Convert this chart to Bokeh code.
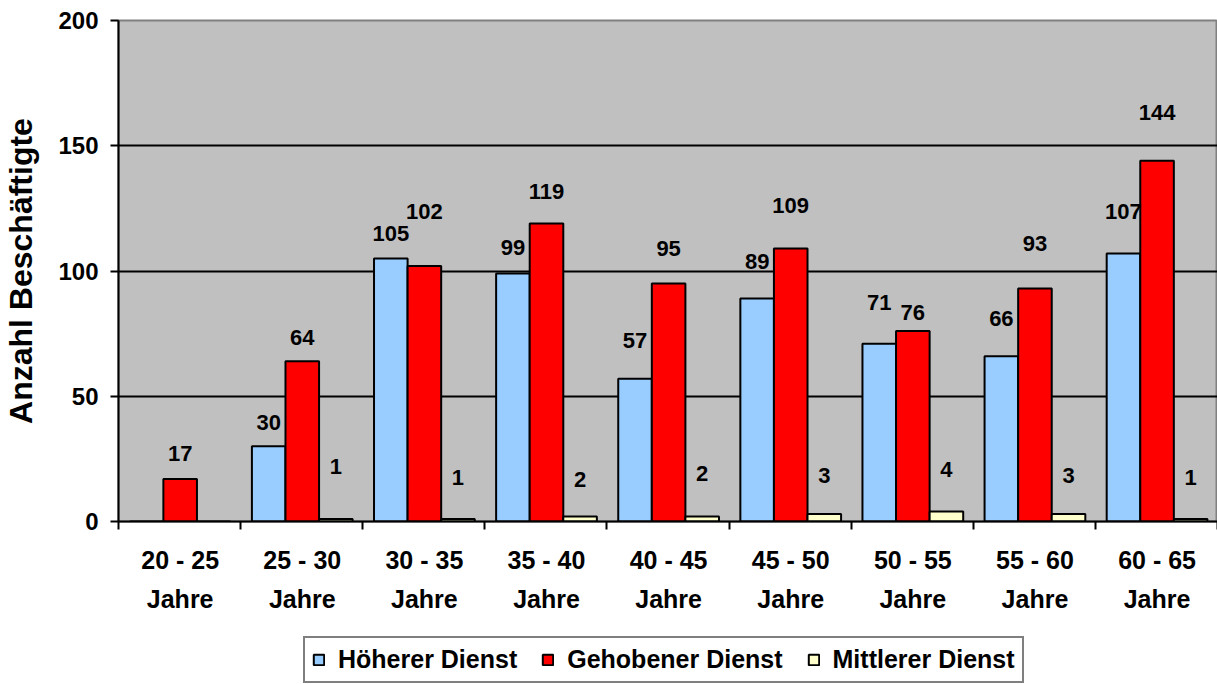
from bokeh.plotting import figure
from bokeh.layouts import column
from bokeh.models import (ColumnDataSource, FixedTicker, Range1d, Legend, LegendItem,
                          LabelSet)
from bokeh.core.properties import value
from bokeh.embed import file_html
from bokeh.resources import INLINE

# ---- data ----
age_groups = ["20 - 25", "25 - 30", "30 - 35", "35 - 40", "40 - 45",
              "45 - 50", "50 - 55", "55 - 60", "60 - 65"]
unit = "Jahre"
hoeherer = [0, 30, 105, 99, 57, 89, 71, 66, 107]
gehobener = [17, 64, 102, 119, 95, 109, 76, 93, 144]
mittlerer = [0, 1, 1, 2, 2, 3, 4, 3, 1]
series_names = ["Höherer Dienst", "Gehobener Dienst", "Mittlerer Dienst"]
y_ticks = [0, 50, 100, 150, 200]

# ---- styles ----
colors = ["#99CCFF", "#FF0000", "#FFFFCC"]
# label lift above bar top in pixels (as placed in the original chart)
label_lift = [
    [0, 24, 25, 26, 38, 37, 41, 38, 42],
    [25, 24, 54, 32, 35, 43, 19, 45, 48],
    [0, 52, 41, 37, 43, 38, 42, 38, 41],
]
FONT = "Liberation Sans"
bar_w = 0.275
shifts = [-0.275, 0.0, 0.275]
W = 1217

n = len(age_groups)
centers = [i + 0.505 for i in range(n)]

p = figure(width=W, height=632, output_backend="svg", toolbar_location=None,
           x_range=Range1d(0, n), y_range=Range1d(0, 200),
           min_border_left=118, min_border_top=20, min_border_right=0,
           min_border_bottom=111)
p.background_fill_color = "#C0C0C0"
p.border_fill_color = "white"
p.outline_line_color = "#808080"
p.outline_line_width = 2

bar_style = [dict(fill_color=c, line_color="black", line_width=2) for c in colors]

for k, vals in enumerate([hoeherer, gehobener, mittlerer]):
    xs = [c + shifts[k] for c in centers]
    src = ColumnDataSource(dict(x=xs, top=vals))
    p.vbar(x="x", top="top", width=bar_w, bottom=0, source=src, **bar_style[k])
    keep = [i for i, v in enumerate(vals) if v > 0]
    lsrc = ColumnDataSource(dict(x=[xs[i] for i in keep],
                                 y=[vals[i] for i in keep],
                                 t=[str(vals[i]) for i in keep],
                                 dy=[label_lift[k][i] for i in keep]))
    labels = LabelSet(x="x", y="y", text="t", y_offset="dy", source=lsrc,
                      text_align="center", text_baseline="middle",
                      text_font=value(FONT), text_font_style="bold",
                      text_font_size="22px", text_color="black")
    p.add_layout(labels)

# grid
p.xgrid.visible = False
p.ygrid.ticker = FixedTicker(ticks=y_ticks[1:-1])
p.ygrid.grid_line_color = "black"
p.ygrid.grid_line_width = 2

# y axis
p.yaxis.ticker = FixedTicker(ticks=y_ticks)
p.yaxis.axis_label = "Anzahl Beschäftigte"
p.yaxis.axis_label_text_font = FONT
p.yaxis.axis_label_text_font_style = "bold"
p.yaxis.axis_label_text_font_size = "32px"
p.yaxis.axis_label_text_color = "black"
p.yaxis.axis_label_standoff = 16
p.yaxis.major_label_text_font = FONT
p.yaxis.major_label_text_font_style = "bold"
p.yaxis.major_label_text_font_size = "24px"
p.yaxis.major_label_text_color = "black"
p.yaxis.major_label_standoff = 12
p.yaxis.axis_line_color = "black"
p.yaxis.axis_line_width = 2
p.yaxis.major_tick_line_color = "black"
p.yaxis.major_tick_line_width = 2
p.yaxis.major_tick_out = 8
p.yaxis.major_tick_in = 0
p.yaxis.minor_tick_line_color = None

# x axis
p.xaxis.ticker = FixedTicker(ticks=centers, minor_ticks=list(range(n + 1)))
p.xaxis.major_label_overrides = {c: f"{g}\n{unit}" for c, g in zip(centers, age_groups)}
p.xaxis.major_label_text_font = FONT
p.xaxis.major_label_text_font_style = "bold"
p.xaxis.major_label_text_font_size = "25px"
p.xaxis.major_label_text_color = "black"
p.xaxis.major_label_text_line_height = 1.4
p.xaxis.major_label_standoff = 16
p.xaxis.major_tick_out = 0
p.xaxis.major_tick_in = 0
p.xaxis.major_tick_line_color = None
p.xaxis.minor_tick_out = 8
p.xaxis.minor_tick_in = 0
p.xaxis.minor_tick_line_color = "black"
p.xaxis.minor_tick_line_width = 2
p.xaxis.axis_line_color = "black"
p.xaxis.axis_line_width = 2

# legend strip below the chart (proxy glyphs carry the legend swatches only)
q = figure(width=W, height=52, output_backend="svg", toolbar_location=None,
           x_range=Range1d(0, 1), y_range=Range1d(0, 1),
           x_axis_location=None, y_axis_location=None,
           min_border_left=0, min_border_right=0, min_border_top=0, min_border_bottom=0)
q.grid.visible = False
q.outline_line_color = None
q.background_fill_color = "white"
nan = float("nan")
proxies = [q.vbar(x=[nan], top=[nan], width=0.1, **bar_style[k]) for k in range(3)]

legend = Legend(items=[LegendItem(label=series_names[k], renderers=[proxies[k]])
                       for k in range(3)],
                orientation="horizontal", location=(185, 1),
                label_text_font=FONT, label_text_font_style="bold",
                label_text_font_size="25px", label_text_color="black",
                glyph_width=13, glyph_height=13, label_standoff=13, spacing=24,
                padding=7, margin=0,
                border_line_color="black", border_line_width=2,
                background_fill_color="white", background_fill_alpha=1)
q.add_layout(legend, "center")

layout = column(p, q, spacing=0)
open("out.html", "w").write(file_html(layout, INLINE))
